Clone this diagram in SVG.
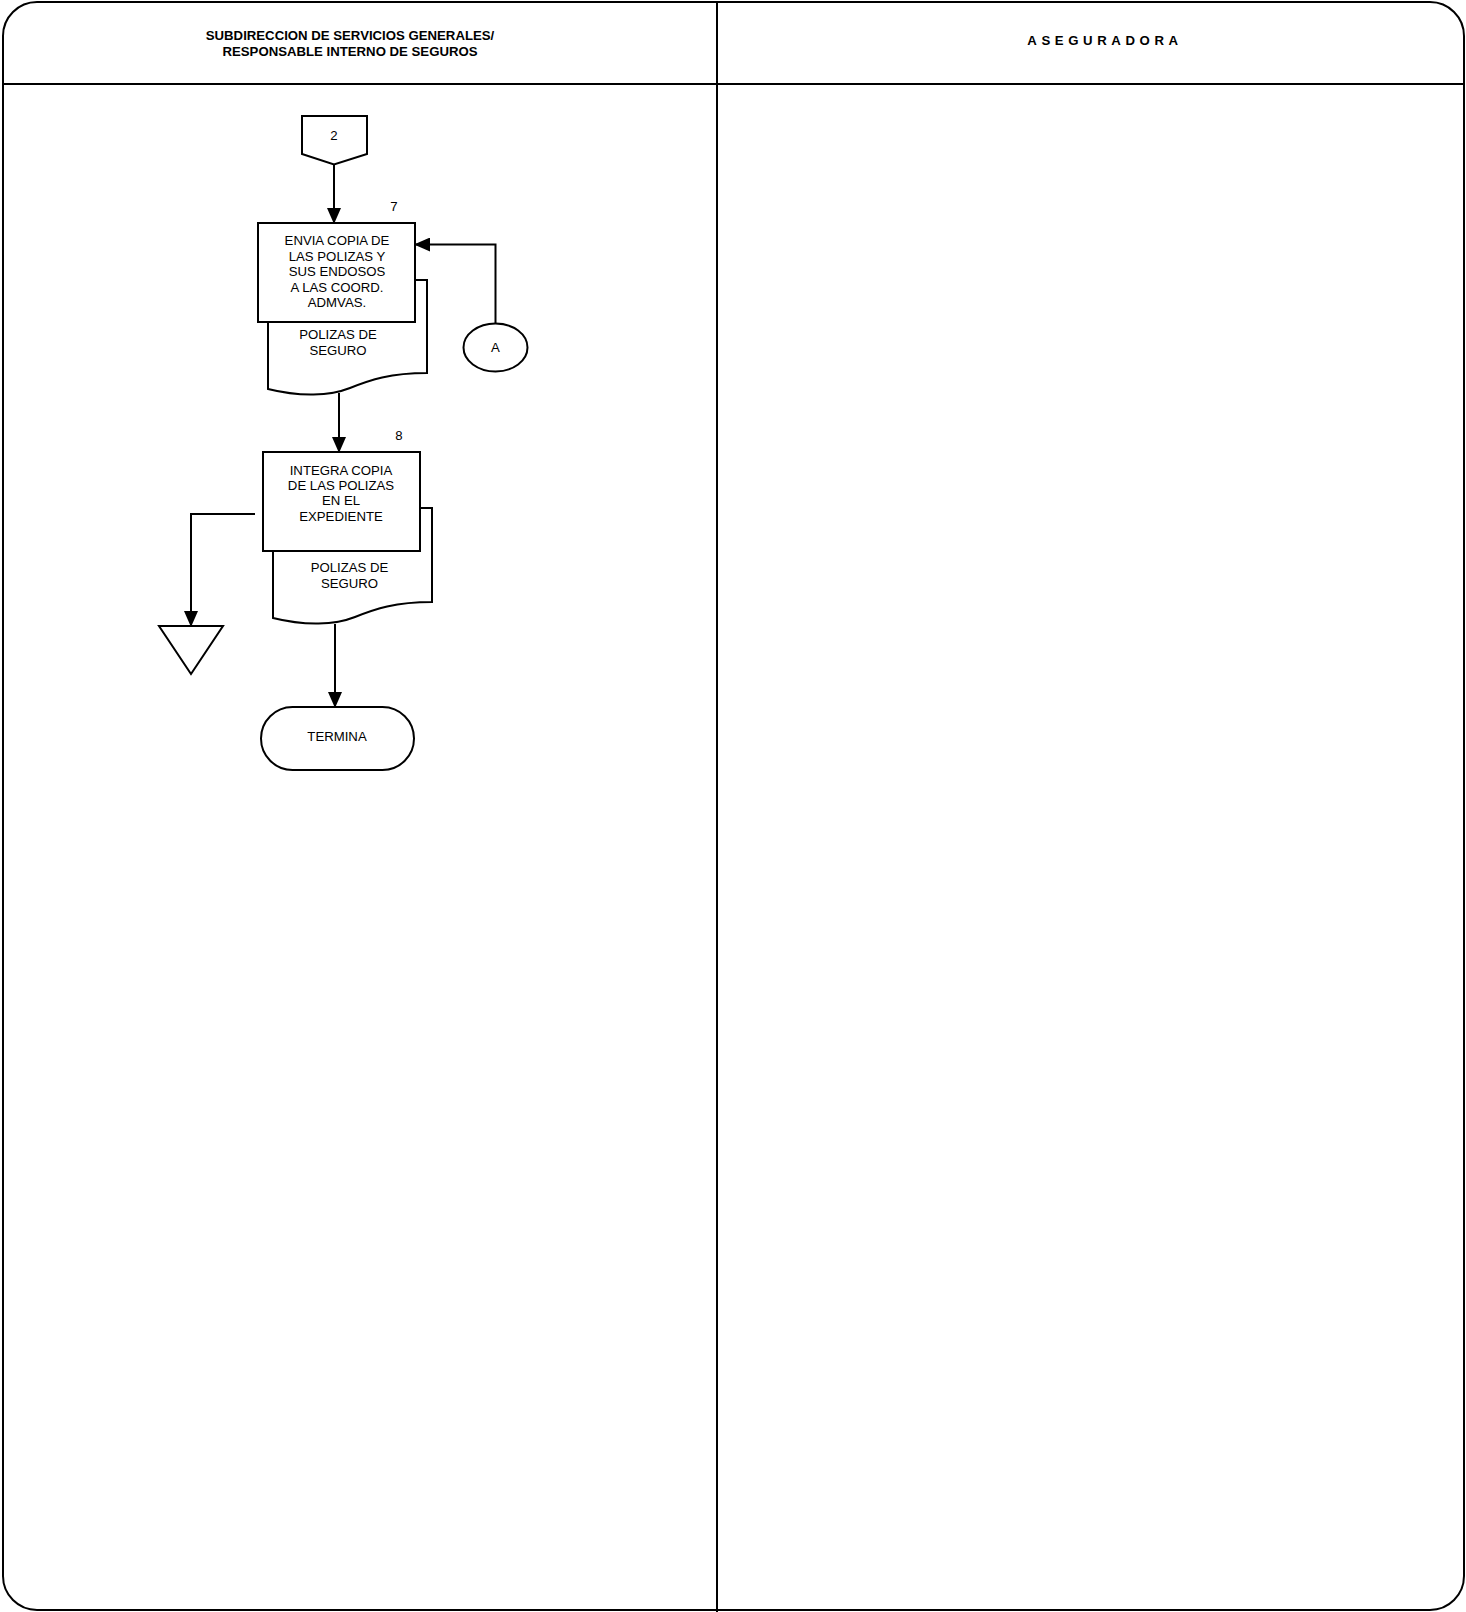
<svg xmlns="http://www.w3.org/2000/svg" width="1466" height="1612" viewBox="0 0 1466 1612">
<style>
.ln{fill:none;stroke:#000;stroke-width:2}
.sh{fill:#fff;stroke:#000;stroke-width:2}
.t{font-family:"Liberation Sans",Arial,sans-serif;font-size:13.2px;text-anchor:middle;fill:#000}
.h{font-family:"Liberation Sans",Arial,sans-serif;font-size:13.2px;font-weight:bold;text-anchor:middle;fill:#000}
</style>
<defs>
<marker id="ah" markerWidth="16" markerHeight="14" refX="15" refY="7" orient="auto" markerUnits="userSpaceOnUse">
<path d="M0,0 L16,7 L0,14 Z" fill="#000"/>
</marker>
</defs>
<g id="frame">
<rect x="3" y="2" width="1461" height="1608" rx="34" ry="34" class="ln"/>
<line x1="3" y1="84" x2="1464" y2="84" class="ln"/>
<line x1="717" y1="2" x2="717" y2="1612" class="ln"/>
<text class="h" x="350" y="40">SUBDIRECCION DE SERVICIOS GENERALES/</text>
<text class="h" x="350" y="56">RESPONSABLE INTERNO DE SEGUROS</text>
<text class="h" x="1105" y="45" font-size="12.5" letter-spacing="4.6">ASEGURADORA</text>
</g>
<g id="connectors">
<line x1="334" y1="165" x2="334" y2="223" class="ln" marker-end="url(#ah)"/>
<polyline points="495.5,324 495.5,244.5 415,244.5" class="ln" marker-end="url(#ah)"/>
<line x1="339" y1="393" x2="339" y2="452" class="ln" marker-end="url(#ah)"/>
<polyline points="255,514 191,514 191,626" class="ln" marker-end="url(#ah)"/>
<line x1="335" y1="624" x2="335" y2="707" class="ln" marker-end="url(#ah)"/>
</g>
<g id="offpage2">
<path d="M302,116 H367 V154 L334,164.5 L302,154 Z" class="sh"/>
<text class="t" x="334" y="139.5">2</text>
</g>
<g id="doc7">
<path d="M268,280 H427 V373 C390,373 370,380 350,388 C330,396 300,397 268,389 Z" class="sh"/>
<text class="t" x="338" y="339">POLIZAS DE</text>
<text class="t" x="338" y="354.5">SEGURO</text>
</g>
<g id="step7">
<rect x="258" y="223" width="157" height="99" class="sh"/>
<text class="t" x="394" y="211">7</text>
<text class="t" x="337" y="245">ENVIA COPIA DE</text>
<text class="t" x="337" y="260.5">LAS POLIZAS Y</text>
<text class="t" x="337" y="276">SUS ENDOSOS</text>
<text class="t" x="337" y="291.5">A LAS COORD.</text>
<text class="t" x="337" y="307">ADMVAS.</text>
</g>
<g id="connA">
<ellipse cx="495.5" cy="347.5" rx="32" ry="24" class="sh"/>
<text class="t" x="495.5" y="352">A</text>
</g>
<g id="doc8">
<path d="M273,508 H432 V602 C395,602 375,609 355,617 C335,625 305,626 273,618 Z" class="sh"/>
<text class="t" x="349.5" y="572">POLIZAS DE</text>
<text class="t" x="349.5" y="587.5">SEGURO</text>
</g>
<g id="step8">
<rect x="263" y="452" width="157" height="99" class="sh"/>
<text class="t" x="399" y="440">8</text>
<text class="t" x="341" y="474.5">INTEGRA COPIA</text>
<text class="t" x="341" y="490">DE LAS POLIZAS</text>
<text class="t" x="341" y="505">EN EL</text>
<text class="t" x="341" y="520.5">EXPEDIENTE</text>
</g>
<g id="archive">
<path d="M159,626 H223 L191,674 Z" class="sh"/>
</g>
<g id="termina">
<rect x="261" y="707" width="153" height="63" rx="31.5" ry="31.5" class="sh"/>
<text class="t" x="337" y="741">TERMINA</text>
</g>
</svg>
